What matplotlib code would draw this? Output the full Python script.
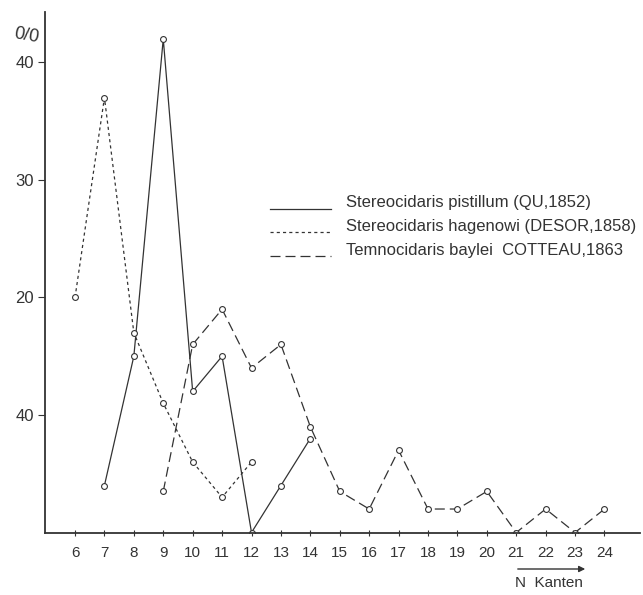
import matplotlib
matplotlib.use("Agg")
import matplotlib.pyplot as plt
from matplotlib.lines import Line2D

# ---- data ----
pist_x = [7, 8, 9, 10, 11, 12, 13, 14]
pist_y = [4, 15, 42, 12, 15, 0, 4, 8]
hag_x = [6, 7, 8, 9, 10, 11, 12]
hag_y = [20, 37, 17, 11, 6, 3, 6]
bay_x = [9, 10, 11, 12, 13, 14, 15, 16, 17, 18, 19, 20, 21, 22, 23, 24]
bay_y = [3.5, 16, 19, 14, 16, 9, 3.5, 2, 7, 2, 2, 3.5, 0, 2, 0, 2]
series_names = ["Stereocidaris pistillum (QU,1852)",
                "Stereocidaris hagenowi (DESOR,1858)",
                "Temnocidaris baylei  COTTEAU,1863"]
x_ticks = list(range(6, 25))
y_ticks = [10, 20, 30, 40]
y_tick_labels = ["40", "20", "30", "40"]
y_unit = "0/0"
x_title = "N  Kanten"

plt.rcParams['font.family'] = ['Liberation Sans', 'DejaVu Sans']
ink = "#333333"
W, H = 643, 595

fig = plt.figure(figsize=(6.43, 5.95), dpi=100)
ax = fig.add_axes([0.070, 0.105, 0.925, 0.875])

lw = 0.9
ms = 4.2
styles = ['-', (0, (2.5, 2.5)), (0, (8, 4))]
for xs, ys, st in zip([pist_x, hag_x, bay_x], [pist_y, hag_y, bay_y], styles):
    ax.plot(xs, ys, color=ink, lw=lw, ls=st, marker='o', ms=ms,
            mfc='white', mec=ink, mew=0.8)

ax.set_xlim(4.98, 25.2)
ax.set_ylim(0, 44.3)
for s in ['top', 'right']:
    ax.spines[s].set_visible(False)
for s in ['left', 'bottom']:
    ax.spines[s].set_color(ink)
    ax.spines[s].set_linewidth(1.3)

ax.set_xticks(x_ticks)
ax.set_xticklabels([str(v) for v in x_ticks], fontsize=11, color=ink)
ax.set_yticks(y_ticks)
ax.set_yticklabels(y_tick_labels, fontsize=12, color=ink)
ax.tick_params(axis='x', direction='inout', length=5, width=0.8, colors=ink, pad=7)
ax.tick_params(axis='y', direction='out', length=5, width=0.8, colors=ink, pad=3)

# y unit label
fig.text(26 / W, 1 - 36 / H, y_unit, fontsize=13, color=ink,
         ha='center', va='center', rotation=-10)

# manual legend
text_y = [202, 226, 250]
line_y = [209, 232, 256]
for name, st, ty, ly in zip(series_names, styles, text_y, line_y):
    fig.add_artist(Line2D([270 / W, 331 / W], [1 - ly / H] * 2,
                          transform=fig.transFigure, color=ink, lw=lw, ls=st))
    fig.text(346 / W, 1 - ty / H, name, fontsize=12, color=ink,
             ha='left', va='center')

# x axis title with arrow
ax.annotate("", xy=(588 / W, 1 - 569 / H), xytext=(515 / W, 1 - 569 / H),
            xycoords='figure fraction', textcoords='figure fraction',
            arrowprops=dict(arrowstyle='-|>', color=ink, lw=1.0,
                            mutation_scale=9))
fig.text(549 / W, 1 - 583 / H, x_title, fontsize=11, color=ink,
         ha='center', va='center')

fig.savefig("out.png", dpi=100)
